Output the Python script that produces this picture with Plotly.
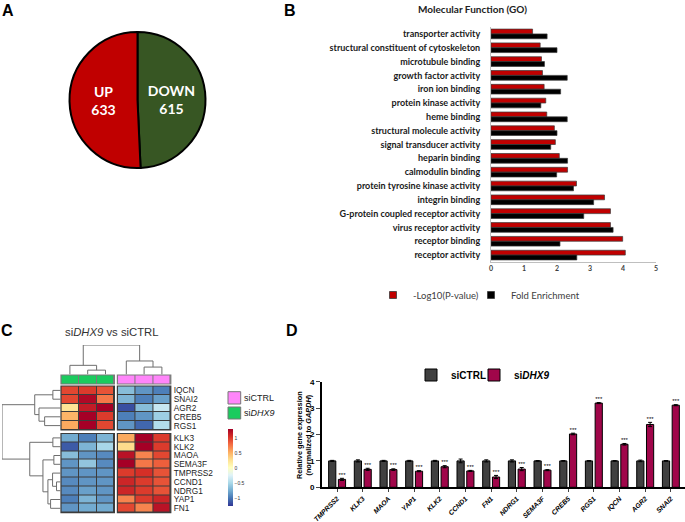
import plotly.graph_objects as go

W, H = 685, 522


def px(x):
    return x / W


def py(y):
    return 1 - y / H


# ---------------- Panel A data ----------------
pie_labels = ["DOWN", "UP"]
pie_values = [615, 633]
pie_colors = ["#375623", "#C00000"]

# ---------------- Panel B data ----------------
go_terms = [
    "transporter activity",
    "structural constituent of cytoskeleton",
    "microtubule binding",
    "growth factor activity",
    "iron ion binding",
    "protein kinase activity",
    "heme binding",
    "structural molecule activity",
    "signal transducer activity",
    "heparin binding",
    "calmodulin binding",
    "protein tyrosine kinase activity",
    "integrin binding",
    "G-protein coupled receptor activity",
    "virus receptor activity",
    "receptor binding",
    "receptor activity",
]
neglog_p = [1.26, 1.49, 1.53, 1.56, 1.61, 1.66, 1.69, 1.92, 1.95, 2.07, 2.32, 2.59, 3.44, 3.62, 3.62, 3.99, 4.07]
fold_enrich = [1.70, 2.00, 1.62, 2.31, 2.11, 1.51, 2.31, 2.00, 1.81, 2.32, 1.99, 2.50, 3.11, 2.81, 3.70, 2.09, 2.60]
b_ticks = [0, 1, 2, 3, 4, 5]

# ---------------- Panel C data ----------------
upper_genes = ["IQCN", "SNAI2", "AGR2", "CREB5", "RGS1"]
lower_genes = ["KLK3", "KLK2", "MAOA", "SEMA3F", "TMPRSS2", "CCND1", "NDRG1", "YAP1", "FN1"]
dhx9_samples = ["siDHX9_1", "siDHX9_2", "siDHX9_3"]
ctrl_samples = ["siCTRL_1", "siCTRL_2", "siCTRL_3"]
upper_dhx9 = [[0.95, 1.00, 0.90], [0.95, 1.25, 0.75], [0.25, 1.15, 1.30], [0.50, 1.30, 1.00], [0.55, 1.30, 0.95]]
upper_ctrl = [[-0.65, -0.85, -0.95], [-0.70, -0.95, -0.80], [-1.15, -0.65, -0.35], [-0.95, -0.85, -0.55], [-0.85, -1.05, -0.45]]
lower_dhx9 = [[-0.75, -0.95, -0.70], [-1.10, -0.70, -0.50], [-0.65, -0.85, -0.90], [-0.85, -0.60, -0.90],
              [-0.85, -0.85, -0.85], [-0.90, -0.85, -0.85], [-0.90, -0.80, -0.85], [-0.95, -0.70, -0.85],
              [-0.85, -0.75, -0.75]]
lower_ctrl = [[0.55, 1.30, 1.00], [0.30, 1.30, 1.00], [1.20, 0.70, 0.95], [1.30, 0.75, 0.85],
              [1.00, 1.05, 0.90], [1.10, 1.00, 0.90], [1.10, 1.00, 0.90], [0.70, 1.00, 1.10],
              [0.95, 0.70, 1.20]]
cb_ticks = [-1, -0.5, 0, 0.5, 1]
cb_ticktext = ["\u22121", "\u22120.5", "0", "0.5", "1"]
# dendrogram merges: (child_a, child_b, height); int = earlier merge index
row_merges = [
    ("IQCN", "SNAI2", 7.7), ("CREB5", "RGS1", 16.0), ("AGR2", 1, 21.7), (0, 2, 26.0),
    ("KLK3", "KLK2", 7.7), ("MAOA", "SEMA3F", 6.7), ("CCND1", "NDRG1", 4.0), ("TMPRSS2", 6, 8.0),
    ("YAP1", "FN1", 10.0), (7, 8, 12.7), (5, 9, 17.7), (4, 10, 31.0), (3, 11, 59.0),
]
col_merges = [
    ("siDHX9_2", "siDHX9_3", 4.3), ("siDHX9_1", 0, 9.0),
    ("siCTRL_2", "siCTRL_3", 7.3), ("siCTRL_1", 2, 13.3), (1, 3, 29.0),
]

# ---------------- Panel D data ----------------
qpcr_genes = ["TMPRSS2", "KLK3", "MAOA", "YAP1", "KLK2", "CCND1", "FN1", "NDRG1", "SEMA3F",
              "CREB5", "RGS1", "IQCN", "AGR2", "SNAI2"]
ctrl_mean = [1.00, 1.00, 1.00, 1.00, 1.00, 1.00, 1.00, 1.00, 1.00, 1.00, 1.00, 1.00, 1.00, 1.00]
ctrl_err = [0.02, 0.04, 0.02, 0.02, 0.02, 0.07, 0.04, 0.04, 0.01, 0.01, 0.01, 0.01, 0.03, 0.01]
si_mean = [0.30, 0.68, 0.67, 0.61, 0.78, 0.62, 0.39, 0.69, 0.65, 2.02, 3.19, 1.63, 2.38, 3.11]
si_err = [0.04, 0.04, 0.03, 0.02, 0.04, 0.02, 0.06, 0.06, 0.02, 0.03, 0.02, 0.03, 0.08, 0.02]
signif = ["***"] * len(qpcr_genes)
d_ticks = [0, 1, 2, 3, 4]

# ---------------- styles ----------------
CAL = "Lato"
ARIAL = "Liberation Sans"
RED = "#C00000"
PINK = "#FF85FA"
GREEN = "#1BCB5E"
RDYLBU_R = ["#313695", "#4575b4", "#74add1", "#abd9e9", "#e0f3f8", "#ffffbf",
            "#fee090", "#fdae61", "#f46d43", "#d73027", "#a50026"]
colorscale = [[i / (len(RDYLBU_R) - 1), c] for i, c in enumerate(RDYLBU_R)]

fig = go.Figure()

# ---------------- Panel A ----------------
fig.add_trace(go.Pie(
    labels=pie_labels, values=pie_values, sort=False, direction="clockwise",
    marker=dict(colors=pie_colors, line=dict(color="black", width=2)),
    texttemplate="%{label}<br>%{value}", textposition="inside", insidetextorientation="horizontal",
    textfont=dict(family=CAL, size=14, color="white", weight="bold"),
    domain=dict(x=[px(69.5), px(205.5)], y=[py(168), py(32)]),
    showlegend=False, hoverinfo="skip",
))

# ---------------- Panel B ----------------
fig.add_trace(go.Bar(y=go_terms, x=neglog_p, orientation="h", name="-Log10(P-value)",
                     marker=dict(color=RED, line=dict(color="#3a3a3a", width=0.7)),
                     showlegend=False, xaxis="x", yaxis="y"))
fig.add_trace(go.Bar(y=go_terms, x=fold_enrich, orientation="h", name="Fold Enrichment",
                     marker=dict(color="black", line=dict(color="#3a3a3a", width=0.7)),
                     showlegend=False, xaxis="x", yaxis="y"))
for nm, col, lg in [("-Log10(P-value)", RED, "legend"), ("Fold Enrichment", "black", "legend4")]:
    fig.add_trace(go.Scatter(x=[None], y=[None], mode="markers", name=nm, legend=lg,
                             marker=dict(symbol="square", size=7, color=col, line=dict(color="#3a3a3a", width=0.8)),
                             xaxis="x", yaxis="y"))

# ---------------- Panel D ----------------
BAR_W = 0.28
OFF_C, OFF_S = -0.33, 0.05
xi = list(range(len(qpcr_genes)))
fig.add_trace(go.Bar(x=xi, y=ctrl_mean, width=BAR_W, offset=OFF_C, name="siCTRL", legend="legend2",
                     marker=dict(color="#404040", line=dict(color="black", width=1)),
                     error_y=dict(type="data", array=ctrl_err, color="black", thickness=1, width=2),
                     xaxis="x2", yaxis="y2"))
fig.add_trace(go.Bar(x=xi, y=si_mean, width=BAR_W, offset=OFF_S, name="si<i>DHX9</i>", legend="legend3",
                     marker=dict(color="#A0064A", line=dict(color="black", width=1)),
                     error_y=dict(type="data", array=si_err, color="black", thickness=1, width=2),
                     xaxis="x2", yaxis="y2"))
fig.add_trace(go.Scatter(x=[i + OFF_S + BAR_W / 2 for i in xi], y=[m + e for m, e in zip(si_mean, si_err)],
                         mode="text", text=signif, textposition="top center",
                         textfont=dict(family=ARIAL, size=6, color="black"), showlegend=False,
                         xaxis="x2", yaxis="y2", hoverinfo="skip"))

# ---------------- Panel C (heatmap) ----------------
COL_W, COL_GAP, HM_LEFT = 17.8, 3.0, 61.0
ROW_H, ROW_GAP, HM_TOP = 8.8, 3.5, 386.0
left_x = [HM_LEFT, HM_LEFT + 3 * COL_W]
right_x = [left_x[1] + COL_GAP, left_x[1] + COL_GAP + 3 * COL_W]
upper_y = [HM_TOP, HM_TOP + len(upper_genes) * ROW_H]
lower_y = [upper_y[1] + ROW_GAP, upper_y[1] + ROW_GAP + len(lower_genes) * ROW_H]
ann_y = [375.0, 384.0]

blocks = [
    (5, upper_dhx9, dhx9_samples, upper_genes, left_x, upper_y),
    (6, upper_ctrl, ctrl_samples, upper_genes, right_x, upper_y),
    (7, lower_dhx9, dhx9_samples, lower_genes, left_x, lower_y),
    (8, lower_ctrl, ctrl_samples, lower_genes, right_x, lower_y),
]
layout_axes = {}
shapes = []
for n, z, xs, ys, xd, yd in blocks:
    fig.add_trace(go.Heatmap(z=z, x=xs, y=ys, coloraxis="coloraxis", xgap=1, ygap=1,
                             xaxis=f"x{n}", yaxis=f"y{n}", hoverinfo="skip"))
    right = xs is ctrl_samples
    layout_axes[f"xaxis{n}"] = dict(domain=[px(xd[0]), px(xd[1])], anchor=f"y{n}", visible=False)
    layout_axes[f"yaxis{n}"] = dict(domain=[py(yd[1]), py(yd[0])], anchor=f"x{n}", autorange="reversed",
                                    visible=right, side="right", showline=False, showgrid=False,
                                    zeroline=False, ticks="", ticklabelstandoff=2, automargin=False,
                                    tickmode="array", tickvals=ys, ticktext=ys,
                                    tickfont=dict(family=ARIAL, size=8.3, color="#222"))

for n, xs, col, xd in [(3, dhx9_samples, GREEN, left_x), (4, ctrl_samples, PINK, right_x)]:
    fig.add_trace(go.Heatmap(z=[[0, 0, 0]], x=xs, y=["group"], colorscale=[[0, col], [1, col]],
                             showscale=False, xgap=1, ygap=0, xaxis=f"x{n}", yaxis=f"y{n}", hoverinfo="skip"))
    layout_axes[f"xaxis{n}"] = dict(domain=[px(xd[0]), px(xd[1])], anchor=f"y{n}", visible=False)
    layout_axes[f"yaxis{n}"] = dict(domain=[py(ann_y[1]), py(ann_y[0])], anchor=f"x{n}", visible=False)
    blocks.append((n, None, None, None, xd, ann_y))

for n, _, _, _, xd, yd in blocks:
    bcol = "#7a7a7a" if n in (3, 4) else "#3c3c3c"
    shapes.append(dict(type="rect", xref=f"x{n} domain", yref=f"y{n} domain", x0=0, x1=1, y0=0, y1=1,
                       fillcolor=bcol, line=dict(width=0), layer="below"))
    shapes.append(dict(type="rect", xref=f"x{n} domain", yref=f"y{n} domain", x0=0, x1=1, y0=0, y1=1,
                       fillcolor="rgba(0,0,0,0)", line=dict(color=bcol, width=1.2), layer="above"))


def dendro(leaf_pos, merges):
    nodes, pos, hts = [], [], []

    def get(c):
        if isinstance(c, int):
            return nodes[c]
        return (leaf_pos[c], 0.0)

    for a, b, h in merges:
        pa, ha = get(a)
        pb, hb = get(b)
        pos += [pa, pa, pb, pb, None]
        hts += [ha, h, h, hb, None]
        nodes.append(((pa + pb) / 2, h))
    return pos, hts


rg = ROW_GAP / ROW_H
row_pos = {g: i for i, g in enumerate(upper_genes)}
row_pos.update({g: len(upper_genes) + rg + i for i, g in enumerate(lower_genes)})
rp, rh = dendro(row_pos, row_merges)
fig.add_trace(go.Scatter(x=rh, y=rp, mode="lines", line=dict(color="#6e6e6e", width=1),
                         showlegend=False, hoverinfo="skip", xaxis="x9", yaxis="y9"))
n_rows = len(upper_genes) + len(lower_genes)
layout_axes["xaxis9"] = dict(domain=[px(2), px(HM_LEFT - 0.5)], anchor="y9", visible=False,
                             range=[row_merges[-1][2], 0])
layout_axes["yaxis9"] = dict(domain=[py(lower_y[1]), py(upper_y[0])], anchor="x9", visible=False,
                             range=[n_rows - 0.5 + rg, -0.5])

cg = COL_GAP / COL_W
col_pos = {s: i for i, s in enumerate(dhx9_samples)}
col_pos.update({s: 3 + cg + i for i, s in enumerate(ctrl_samples)})
cp, ch = dendro(col_pos, col_merges)
fig.add_trace(go.Scatter(x=cp, y=ch, mode="lines", line=dict(color="#6e6e6e", width=1),
                         showlegend=False, hoverinfo="skip", xaxis="x10", yaxis="y10"))
layout_axes["xaxis10"] = dict(domain=[px(left_x[0]), px(right_x[1])], anchor="y10", visible=False,
                              range=[-0.5, 5.5 + cg])
layout_axes["yaxis10"] = dict(domain=[py(ann_y[0] - 0.5), py(345)], anchor="x10", visible=False,
                              range=[0, col_merges[-1][2]])

for (y0, y1), col in [((391.7, 404), PINK), ((407, 419), GREEN)]:
    shapes.append(dict(type="rect", xref="paper", yref="paper", x0=px(228), x1=px(240.7), y0=py(y1), y1=py(y0),
                       fillcolor=col, line=dict(color="#777", width=1)))

annotations = [
    dict(text="<b>A</b>", x=px(0), y=py(0)),
    dict(text="<b>B</b>", x=px(282), y=py(0)),
    dict(text="<b>C</b>", x=px(-1), y=py(320)),
    dict(text="<b>D</b>", x=px(284), y=py(320)),
]
for a in annotations:
    a.update(xref="paper", yref="paper", showarrow=False, xanchor="left", yanchor="top",
             font=dict(family=ARIAL, size=16, color="black"))


def label(text, x, y, size, family=ARIAL, color="#222", xanchor="center", angle=0):
    return dict(text=text, x=px(x), y=py(y), xref="paper", yref="paper", showarrow=False,
                xanchor=xanchor, yanchor="middle", textangle=angle,
                font=dict(family=family, size=size, color=color))


annotations += [
    label("<b>Molecular Function (GO)</b>", 472, 9, 10, CAL),
    label("si<i>DHX9</i> vs siCTRL", 112, 332, 11.3, color="#333"),
    label("siCTRL", 242, 398, 9, xanchor="left"),
    label("si<i>DHX9</i>", 242, 413, 9, xanchor="left"),
    label("<b>Relative gene expression<br>(normalized to <i>GAPDH</i>)</b>", 304, 435, 7.3,
          color="black", angle=-90),
]

leg_common = dict(orientation="h", xanchor="left", yanchor="middle", itemwidth=30,
                  bgcolor="rgba(0,0,0,0)", borderwidth=0)

fig.update_layout(
    template="none",
    width=W, height=H, autosize=False, margin=dict(l=0, r=0, t=0, b=0, pad=0),
    paper_bgcolor="white", plot_bgcolor="rgba(0,0,0,0)",
    barmode="group", bargap=0.3, bargroupgap=0,
    xaxis=dict(domain=[px(491), px(656)], anchor="y", range=[0, 5], tickvals=b_ticks, showline=True,
               linecolor="#bfbfbf", linewidth=1, ticks="", showgrid=False, zeroline=False, automargin=False,
               tickfont=dict(family=CAL, size=7, color="#404040", weight="bold")),
    yaxis=dict(domain=[py(262), py(27)], anchor="x", autorange="reversed", type="category", showline=True,
               linecolor="#bfbfbf", linewidth=1, ticks="", showgrid=False, ticklabelstandoff=8, automargin=False,
               tickfont=dict(family=CAL, size=9, color="#1a1a1a", weight="bold")),
    xaxis2=dict(domain=[px(321.7), px(685)], anchor="y2", range=[-0.6, len(qpcr_genes) - 0.45],
                tickvals=xi, ticktext=qpcr_genes, tickangle=-45, showline=True, linecolor="black",
                linewidth=1.5, ticks="outside", ticklen=3, tickwidth=1, showgrid=False, zeroline=False,
                automargin=False, ticklabelstandoff=0,
                tickfont=dict(family=ARIAL, size=6.8, color="black", style="italic", weight="bold")),
    yaxis2=dict(domain=[py(487.3), py(381.7)], anchor="x2", range=[0, 4], tickvals=d_ticks, showline=True,
                linecolor="black", linewidth=1.5, ticks="outside", ticklen=4, tickwidth=1.2, showgrid=False,
                zeroline=False, automargin=False,
                tickfont=dict(family=ARIAL, size=8, color="black", weight="bold")),
    coloraxis=dict(colorscale=colorscale, cmin=-1.25, cmax=1.3,
                   colorbar=dict(thickness=5, len=77, lenmode="pixels", x=px(228), xanchor="left",
                                 y=py(429), yanchor="top", xpad=0, ypad=0, outlinewidth=0,
                                 tickvals=cb_ticks, ticktext=cb_ticktext, ticks="",
                                 tickfont=dict(family=ARIAL, size=5, color="#333"))),
    legend=dict(x=px(373), y=py(295), font=dict(family=CAL, size=9.5, color="#404040"), **leg_common),
    legend4=dict(x=px(471), y=py(295), font=dict(family=CAL, size=9.5, color="#404040"), **leg_common),
    legend2=dict(x=px(411), y=py(375), font=dict(family=ARIAL, size=10, color="black", weight="bold"),
                 **leg_common),
    legend3=dict(x=px(474), y=py(375), font=dict(family=ARIAL, size=10, color="black", weight="bold"),
                 **leg_common),
    shapes=shapes, annotations=annotations,
    **layout_axes,
)

fig.write_html("out.html", config={"displayModeBar": False},
               post_script="document.body.style.margin='0';document.body.style.overflow='hidden';")
